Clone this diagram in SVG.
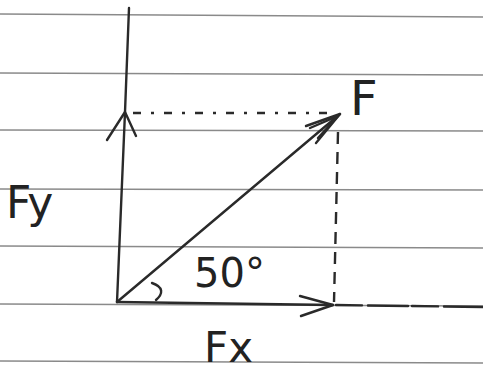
<svg xmlns="http://www.w3.org/2000/svg" width="483" height="372" viewBox="0 0 483 372">
<style>
.rule{stroke:#8a8a8a;stroke-width:1.3;fill:none}
.ink{stroke:#2a2a2a;stroke-width:2.4;fill:none;stroke-linecap:round;stroke-linejoin:round}
.dash{stroke:#2a2a2a;stroke-width:2.4;fill:none;stroke-dasharray:12 8}
.dashdot{stroke:#2a2a2a;stroke-width:2.4;fill:none;stroke-dasharray:8 10 3 10}
.lbl{font-family:"DejaVu Sans","Liberation Sans",sans-serif;fill:#222}
</style>
<rect width="483" height="372" fill="#fff"/>
<g id="paper">
<path class="rule" d="M0 14 L483 17"/>
<path class="rule" d="M0 73 L483 75"/>
<path class="rule" d="M0 130 L483 131"/>
<path class="rule" d="M0 189 L483 190"/>
<path class="rule" d="M0 246 L483 248"/>
<path class="rule" d="M0 304 L483 306"/>
<path class="rule" d="M0 361 L483 363"/>
</g>
<g id="connectors">
<path class="ink" d="M129 8 L125 112 L117 302"/>
<path class="ink" d="M107 140 L125 112 L136 136"/>
<path class="dashdot" d="M133 113 L330 113"/>
<path class="ink" d="M117 302 L340 114"/>
<path class="ink" d="M306 126 L340 114 L316 143"/>
<path class="ink" d="M310 128 L338 116 L318 138"/>
<path class="dash" d="M338 132 L334 302"/>
<path class="ink" d="M117 302 L333 305"/>
<path class="ink" d="M300 296 L333 305 L301 316"/>
<path class="ink" d="M336 305 L483 307" stroke-dasharray="26 6 40 4"/>
<path class="ink" d="M156 300 C163 294 164 287 152 283"/>
</g>
<g id="label-F"><text class="lbl" x="350" y="115" font-size="48">F</text></g>
<g id="label-Fy"><text class="lbl" x="6" y="218" font-size="44">Fy</text></g>
<g id="label-angle"><text class="lbl" x="194" y="287" font-size="40">50°</text></g>
<g id="label-Fx"><text class="lbl" x="204" y="362" font-size="42">Fx</text></g>
</svg>
